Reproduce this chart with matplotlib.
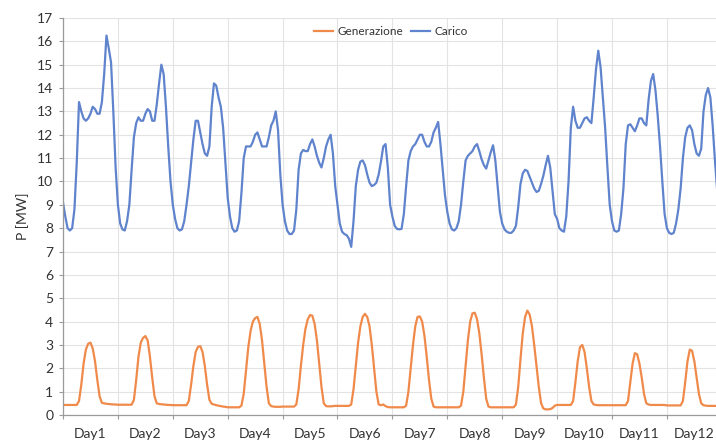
import matplotlib
matplotlib.use("Agg")
import matplotlib.pyplot as plt
import numpy as np

# hourly values, one row per day (24 h each)
carico = [
    9.1, 8.5, 8.0, 7.9, 8.0, 8.8, 10.8, 13.4, 13.0, 12.7, 12.6, 12.7, 12.9, 13.2, 13.1, 12.9, 12.9, 13.4, 14.6, 16.25, 15.7, 15.1, 13.0, 10.6,
    9.0, 8.2, 7.95, 7.9, 8.3, 9.0, 10.5, 11.9, 12.5, 12.75, 12.6, 12.6, 12.9, 13.1, 13.0, 12.6, 12.6, 13.3, 14.2, 15.0, 14.6, 13.2, 11.5, 10.0,
    9.0, 8.4, 8.0, 7.9, 7.95, 8.3, 9.0, 9.8, 10.8, 11.8, 12.6, 12.6, 12.1, 11.6, 11.2, 11.1, 11.5, 13.2, 14.2, 14.1, 13.6, 13.2, 12.3, 10.8,
    9.3, 8.5, 8.0, 7.85, 7.9, 8.3, 9.5, 11.0, 11.5, 11.5, 11.5, 11.7, 12.0, 12.1, 11.8, 11.5, 11.5, 11.5, 11.9, 12.4, 12.6, 13.0, 12.2, 10.3,
    9.0, 8.3, 7.9, 7.75, 7.75, 7.9, 8.8, 10.5, 11.2, 11.35, 11.3, 11.3, 11.6, 11.8, 11.5, 11.1, 10.8, 10.6, 11.0, 11.5, 11.8, 12.0, 11.2, 9.8,
    9.0, 8.2, 7.85, 7.75, 7.7, 7.55, 7.2, 8.3, 9.8, 10.5, 10.85, 10.9, 10.7, 10.3, 9.95, 9.8, 9.85, 9.95, 10.3, 10.85, 11.5, 11.6, 10.6, 9.0,
    8.5, 8.1, 7.97, 7.95, 7.97, 8.6, 9.8, 10.9, 11.3, 11.5, 11.6, 11.8, 12.0, 12.0, 11.7, 11.5, 11.5, 11.7, 12.1, 12.3, 12.55, 11.6, 10.5, 9.4,
    8.7, 8.2, 7.95, 7.9, 8.0, 8.3, 9.0, 10.0, 10.9, 11.1, 11.2, 11.3, 11.5, 11.6, 11.3, 10.95, 10.7, 10.55, 10.9, 11.25, 11.55, 10.9, 9.8, 8.7,
    8.2, 7.95, 7.85, 7.8, 7.8, 7.9, 8.1, 8.9, 9.9, 10.35, 10.5, 10.45, 10.2, 9.95, 9.7, 9.55, 9.6, 9.9, 10.25, 10.7, 11.1, 10.6, 9.6, 8.6,
    8.4, 8.0, 7.9, 7.85, 8.5, 10.0, 12.3, 13.2, 12.6, 12.3, 12.3, 12.5, 12.7, 12.75, 12.6, 12.5, 13.6, 14.8, 15.6, 14.9, 13.6, 12.3, 10.6, 9.0,
    8.3, 7.9, 7.85, 7.9, 8.6, 9.7, 11.6, 12.4, 12.45, 12.3, 12.15, 12.4, 12.7, 12.7, 12.5, 12.4, 13.5, 14.3, 14.6, 13.9, 12.8, 11.5, 10.0, 8.6,
    8.0, 7.8, 7.75, 7.8, 8.2, 8.8, 9.7, 11.0, 11.9, 12.3, 12.4, 12.2, 11.6, 11.2, 11.1, 11.4, 13.0, 13.7, 14.0, 13.6, 12.4, 10.9, 9.6, 8.7,
]

generazione = [
    0.43, 0.43, 0.43, 0.43, 0.43, 0.43, 0.43, 0.6, 1.3, 2.2, 2.8, 3.05, 3.1, 2.85, 2.3, 1.5, 0.8, 0.52, 0.5, 0.48, 0.47, 0.46, 0.45, 0.45,
    0.44, 0.44, 0.44, 0.44, 0.44, 0.44, 0.44, 0.65, 1.5, 2.5, 3.1, 3.3, 3.38, 3.2, 2.5, 1.6, 0.8, 0.5, 0.47, 0.46, 0.45, 0.44, 0.43, 0.43,
    0.42, 0.42, 0.42, 0.42, 0.42, 0.42, 0.42, 0.6, 1.3, 2.1, 2.7, 2.92, 2.95, 2.7, 2.1, 1.3, 0.65, 0.48, 0.45, 0.42, 0.4, 0.38, 0.36, 0.35,
    0.33, 0.33, 0.33, 0.33, 0.33, 0.33, 0.4, 0.9, 1.9, 2.9, 3.6, 4.0, 4.15, 4.2, 3.9, 3.2, 2.2, 1.2, 0.5, 0.38, 0.36, 0.35, 0.35, 0.35,
    0.36, 0.36, 0.36, 0.36, 0.36, 0.36, 0.45, 1.1, 2.1, 3.0, 3.7, 4.1, 4.28, 4.25, 3.9, 3.2, 2.2, 1.2, 0.5, 0.38, 0.37, 0.37, 0.38, 0.39,
    0.39, 0.39, 0.39, 0.39, 0.39, 0.39, 0.45, 1.1, 2.1, 3.1, 3.8, 4.2, 4.33, 4.2, 3.8, 3.0, 2.0, 1.0, 0.45, 0.42, 0.45, 0.38, 0.34, 0.33,
    0.33, 0.33, 0.33, 0.33, 0.33, 0.33, 0.4, 1.0, 2.0, 3.0, 3.8, 4.2, 4.22, 4.0, 3.4, 2.5, 1.5, 0.7, 0.36, 0.33, 0.33, 0.33, 0.33, 0.33,
    0.33, 0.33, 0.33, 0.33, 0.33, 0.33, 0.4, 1.0, 2.1, 3.2, 4.0, 4.35, 4.38, 4.1, 3.5, 2.6, 1.6, 0.7, 0.36, 0.33, 0.33, 0.33, 0.33, 0.33,
    0.33, 0.33, 0.33, 0.33, 0.33, 0.33, 0.45, 1.2, 2.4, 3.5, 4.2, 4.47, 4.3, 3.8, 3.0, 2.1, 1.2, 0.5, 0.28, 0.24, 0.24, 0.25, 0.3, 0.4,
    0.43, 0.43, 0.43, 0.43, 0.43, 0.43, 0.43, 0.6, 1.4, 2.3, 2.9, 3.0, 2.7, 2.0, 1.2, 0.6, 0.45, 0.43, 0.42, 0.42, 0.42, 0.42, 0.42, 0.42,
    0.42, 0.42, 0.42, 0.42, 0.42, 0.42, 0.42, 0.6, 1.4, 2.2, 2.65, 2.6, 2.2, 1.6, 0.9, 0.5, 0.45, 0.43, 0.43, 0.43, 0.43, 0.43, 0.43, 0.43,
    0.41, 0.41, 0.41, 0.41, 0.41, 0.41, 0.41, 0.6, 1.4, 2.3, 2.8, 2.75, 2.3, 1.6, 0.9, 0.5, 0.42, 0.4, 0.39, 0.39, 0.39, 0.39, 0.39, 0.39,
]

days = ["Day%d" % i for i in range(1, 13)]
yticks = list(range(0, 18))

plt.rcParams["font.family"] = ["Lato", "DejaVu Sans"]

hours = np.arange(len(carico))

fig = plt.figure(figsize=(7.16, 4.41), dpi=100)
# plot area runs a bit past the right edge of the picture, as in the original
ax = fig.add_axes([63 / 716, 26 / 441, 658.8 / 716, 397 / 441])

ax.plot(hours, generazione, color="#F08A4B", lw=1.6, label="Generazione")
ax.plot(hours, carico, color="#5F83CC", lw=1.6, label="Carico")

ax.set_xlim(0, 24 * len(days))
ax.set_ylim(0, 17)
ax.set_yticks(yticks)
ax.set_xticks(np.arange(0, 24 * len(days) + 1, 24))
ax.set_xticklabels([])
ax.set_xticks(np.arange(12, 24 * len(days), 24), minor=True)
ax.set_xticklabels(days, minor=True)

ax.grid(True, which="major", color="#E3E3E3", lw=0.8)
ax.set_axisbelow(True)
for side in ["top", "right"]:
    ax.spines[side].set_visible(False)
for side in ["left", "bottom"]:
    ax.spines[side].set_color("#9A9A9A")
    ax.spines[side].set_linewidth(0.9)

ax.tick_params(axis="y", which="major", length=3, width=0.8, color="#9A9A9A",
               labelsize=10, labelcolor="#333333", pad=4)
ax.tick_params(axis="x", which="major", length=3, width=0.8, color="#9A9A9A")
ax.tick_params(axis="x", which="minor", length=0, labelsize=10,
               labelcolor="#333333", pad=9)

ax.set_ylabel("P [MW]", fontsize=10, color="#333333", labelpad=6)

ax.legend(loc="upper center", bbox_to_anchor=(0.498, 1.0), ncol=2, frameon=False,
          fontsize=8.5, handlelength=1.6, columnspacing=0.6, handletextpad=0.4,
          borderaxespad=0.3, labelcolor="#333333")

fig.savefig("out.png", dpi=100)
